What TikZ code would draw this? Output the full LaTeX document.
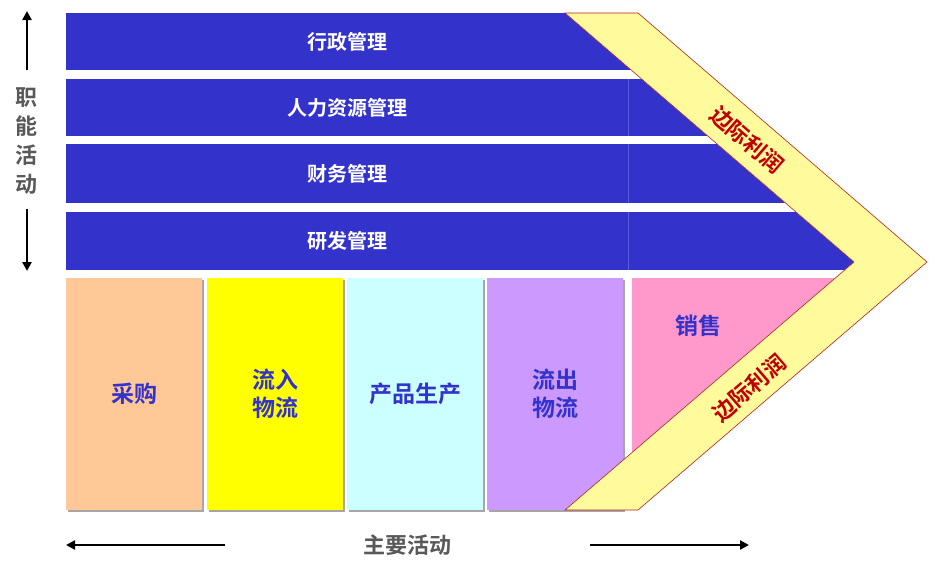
\documentclass[tikz,border=0pt]{standalone}
\usepackage{fontspec}
\newfontfamily\cjk{Noto Sans CJK SC}[BoldFont={Noto Sans CJK SC Bold}]
\usetikzlibrary{arrows.meta,shadows}
\definecolor{barblue}{HTML}{3333CC}
\definecolor{barline}{HTML}{5A5AE0}
\definecolor{txtblue}{HTML}{3333CC}
\definecolor{cpeach}{HTML}{FFC896}
\definecolor{cyellow}{HTML}{FFFF00}
\definecolor{ccyan}{HTML}{CCFFFF}
\definecolor{clav}{HTML}{CC99FF}
\definecolor{cpink}{HTML}{FF99CC}
\definecolor{bandyellow}{HTML}{FFFA9C}
\definecolor{bandred}{HTML}{B22222}
\definecolor{redtxt}{HTML}{C00000}
\definecolor{graytxt}{HTML}{595959}
\begin{document}
\begin{tikzpicture}[x=1pt,y=-1pt,
  barleft/.style={fill=barblue,draw=none,anchor=north west,inner sep=0pt,minimum width=562pt,text=white,font=\cjk\bfseries\fontsize{20}{24}\selectfont},
  actbox/.style={anchor=north west,inner sep=0pt,minimum width=136pt,minimum height=232pt,text=txtblue,align=center,
     font=\cjk\bfseries\fontsize{23}{28}\selectfont,drop shadow={shadow xshift=2pt,shadow yshift=-2pt,fill=black!35,opacity=1}},
  bandtext/.style={text=redtxt,font=\cjk\bfseries\fontsize{22}{26}\selectfont},
  side/.style={text=graytxt,font=\cjk\bfseries\fontsize{22}{29}\selectfont,align=center},
  arr/.style={line width=2.8pt,-{Triangle[length=9pt,width=9pt]}}]
\useasboundingbox (0,0) rectangle (932,574);
\fill[white] (0,0) rectangle (932,574);

% bottom activity boxes
\node[actbox,fill=cpeach] (cg) at (66,278) {采购};
\node[actbox,fill=cyellow] (lr) at (207,278) {流入\\物流};
\node[actbox,fill=ccyan] (sc) at (347,278) {产品生产};
\node[actbox,fill=clav] (lc) at (487,278) {流出\\物流};

\begin{scope}
  \clip (50,5) -- (555.7,5) -- (854,262) -- (553.4,520) -- (50,520) -- cycle;
  % blue bars
  \node[barleft,minimum height=57pt] (b1) at (66,13) {行政管理};
  \fill[barblue] (627,13) rectangle (900,70);
  \node[barleft,minimum height=57pt] (b2) at (66,79) {人力资源管理};
  \fill[barblue] (627,79) rectangle (900,136);
  \node[barleft,minimum height=59pt] (b3) at (66,144) {财务管理};
  \fill[barblue] (627,144) rectangle (900,203);
  \node[barleft,minimum height=58pt] (b4) at (66,212) {研发管理};
  \fill[barblue] (627,212) rectangle (900,270);
  \draw[barline,line width=0.6pt] (b2.north east) -- (b2.south east);
  \draw[barline,line width=0.6pt] (b3.north east) -- (b3.south east);
  \draw[barline,line width=0.6pt] (b4.north east) -- (b4.south east);
  % sales
  \node[fill=cpink,anchor=north west,inner sep=0pt,minimum width=280pt,minimum height=232pt] (xs) at (632,278) {};
\end{scope}
\node[text=txtblue,font=\cjk\bfseries\fontsize{23}{28}\selectfont] (xst) at (698,326) {销售};

% margin chevron
\filldraw[fill=bandyellow,draw=bandred,line width=0.6pt]
  (565,13) -- (638,13) -- (927,262) -- (638,510) -- (565,510) -- (854,262) -- cycle;
\node[bandtext,rotate=-40.75,inner sep=0pt] (m1) at (747,140) {边际利润};
\node[bandtext,rotate=40.75,inner sep=0pt] (m2) at (749,388) {边际利润};

% side label
\node[side] (zn) at (27,141) {职\\能\\活\\动};
\coordinate (u1) at (27,70);
\coordinate (u2) at (27,11);
\coordinate (d1) at (27,209);
\coordinate (d2) at (27,271);
\draw[arr] (u1) -- (u2);
\draw[arr] (d1) -- (d2);

% bottom label
\node[side] (zy) at (407,545) {主要活动};
\coordinate (l1) at (225,545);
\coordinate (l2) at (66,545);
\coordinate (r1) at (590,545);
\coordinate (r2) at (749,545);
\draw[arr] (l1) -- (l2);
\draw[arr] (r1) -- (r2);
\end{tikzpicture}
\end{document}
